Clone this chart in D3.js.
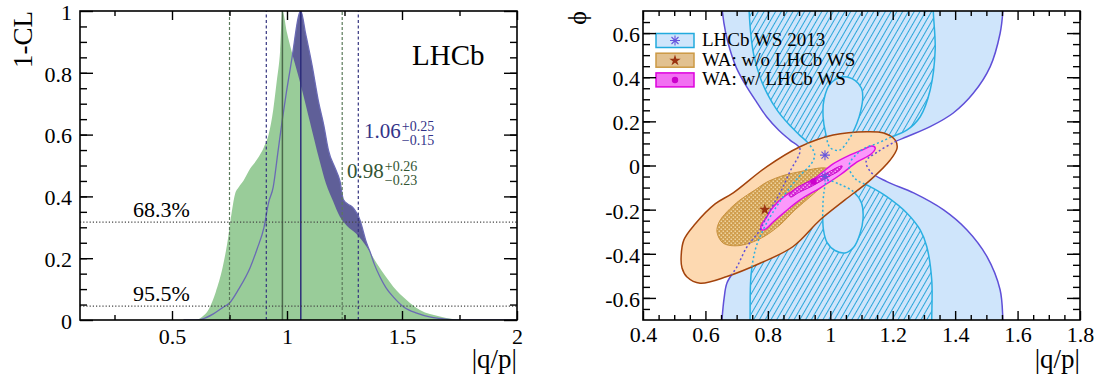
<!DOCTYPE html>
<html>
<head>
<meta charset="utf-8">
<script src="https://cdn.jsdelivr.net/npm/d3@7"></script>
<style>
  html, body { margin: 0; padding: 0; background: #fff; }
  svg { display: block; font-family: "Liberation Serif", "Times New Roman", serif; }
</style>
</head>
<body>
<svg id="chart" width="1101" height="377"></svg>
<script>
// ---- left panel: 1-CL scans vs |q/p| ----
const scanWA = [
  [0.55, 0], [0.60, 0], [0.63, 0.01], [0.66, 0.035], [0.69, 0.09], [0.72, 0.17], [0.745, 0.27],
  [0.76, 0.35], [0.775, 0.41], [0.79, 0.43], [0.81, 0.45], [0.84, 0.49], [0.87, 0.52], [0.9, 0.56],
  [0.92, 0.6], [0.94, 0.68], [0.955, 0.77], [0.97, 0.87], [0.98, 1.0], [1.0, 0.93], [1.02, 0.87],
  [1.06, 0.76], [1.1, 0.64], [1.14, 0.52], [1.17, 0.44], [1.2, 0.385], [1.23, 0.334], [1.26, 0.305],
  [1.3, 0.28], [1.346, 0.237], [1.39, 0.184], [1.43, 0.14], [1.462, 0.108], [1.52, 0.065],
  [1.578, 0.032], [1.665, 0.011], [1.72, 0.003], [1.8, 0], [2.0, 0]
]
const scanLHCb = [
  [0.55, 0], [0.6, 0], [0.63, 0.003], [0.68, 0.02], [0.72, 0.04], [0.75, 0.055], [0.79, 0.1],
  [0.84, 0.17], [0.87, 0.23], [0.9, 0.3], [0.92, 0.38], [0.94, 0.43], [0.96, 0.54], [0.98, 0.65],
  [1.02, 0.84], [1.06, 1.0], [1.08, 0.93], [1.11, 0.82], [1.136, 0.71], [1.16, 0.63], [1.18, 0.55],
  [1.21, 0.49], [1.23, 0.45], [1.245, 0.39], [1.265, 0.375], [1.285, 0.365], [1.317, 0.324],
  [1.346, 0.249], [1.361, 0.221], [1.38, 0.18], [1.404, 0.14], [1.43, 0.105], [1.462, 0.075],
  [1.506, 0.043], [1.564, 0.022], [1.62, 0.01], [1.665, 0.005], [1.75, 0], [2.0, 0]
]
const clLevels = [0.317, 0.045]
const clLabels = ['68.3%', '95.5%']
const bestWA = 0.98
const rangeWA = [0.75, 1.24]
const bestLHCb = 1.06
const rangeLHCb = [0.91, 1.31]
const leftXTicks = [0.5, 1, 1.5, 2]
const leftXMinor = [0.25, 0.75, 1.25, 1.75]
const leftYTicks = [0, 0.2, 0.4, 0.6, 0.8, 1]

// ---- right panel: contours in (|q/p|, phi) ----
const lhcb95 = [
  [0.650, 0.78], [0.654, 0.70], [0.665, 0.60], [0.679, 0.523], [0.70, 0.44], [0.732, 0.357],
  [0.765, 0.285], [0.796, 0.221], [0.835, 0.16], [0.871, 0.115], [0.903, 0.075],
  [0.87, -0.03], [0.839, -0.124], [0.80, -0.22], [0.775, -0.292], [0.733, -0.369], [0.701, -0.459],
  [0.669, -0.532], [0.66, -0.6], [0.653, -0.70], [0.650, -0.78],
  [1.555, -0.78], [1.553, -0.70], [1.544, -0.563], [1.502, -0.413], [1.438, -0.292], [1.363, -0.201],
  [1.267, -0.124], [1.181, -0.073], [1.13, -0.03], [1.115, 0.02], [1.15, 0.06], [1.208, 0.108],
  [1.245, 0.13], [1.32, 0.176], [1.394, 0.238], [1.458, 0.327], [1.512, 0.447], [1.544, 0.598],
  [1.553, 0.70], [1.555, 0.78]
]
const lhcb68 = [
  [0.738, 0.78], [0.74, 0.70], [0.745, 0.6], [0.755, 0.5], [0.775, 0.4], [0.80, 0.32], [0.83, 0.25],
  [0.865, 0.19], [0.90, 0.14], [0.93, 0.10], [0.95, 0.05], [0.94, 0.01],
  [0.9, -0.05], [0.86, -0.12], [0.828, -0.186], [0.80, -0.25], [0.775, -0.322], [0.76, -0.38],
  [0.746, -0.497], [0.743, -0.70], [0.742, -0.78],
  [1.325, -0.78], [1.325, -0.70], [1.325, -0.518], [1.309, -0.367], [1.288, -0.292], [1.245, -0.215],
  [1.181, -0.141], [1.128, -0.096], [1.08, -0.06], [1.06, 0.0], [1.1, 0.07], [1.15, 0.1],
  [1.197, 0.13], [1.245, 0.16], [1.288, 0.221], [1.32, 0.342], [1.336, 0.523], [1.33, 0.70], [1.33, 0.78]
]
const lhcb68HoleTop = [
  [1.042, 0.402], [1.08, 0.385], [1.1, 0.35], [1.104, 0.311], [1.098, 0.25], [1.085, 0.19],
  [1.058, 0.115], [1.03, 0.07], [1.0, 0.08], [0.985, 0.147], [0.977, 0.22], [0.98, 0.3], [1.0, 0.37]
]
const lhcb68HoleBottom = [
  [0.99, -0.07], [1.03, -0.085], [1.075, -0.12], [1.1, -0.17], [1.105, -0.24], [1.095, -0.31],
  [1.075, -0.37], [1.047, -0.396], [1.015, -0.385], [0.99, -0.35], [0.978, -0.29], [0.976, -0.2], [0.98, -0.12]
]
const waOuter = [
  [0.522, -0.419], [0.531, -0.337], [0.567, -0.265], [0.631, -0.174], [0.689, -0.124], [0.797, -0.005],
  [0.903, 0.085], [1.009, 0.138], [1.117, 0.153], [1.171, 0.147], [1.208, 0.115], [1.214, 0.079],
  [1.192, 0.025], [1.128, -0.066], [1.047, -0.156], [0.967, -0.247], [0.881, -0.367], [0.775, -0.443],
  [0.669, -0.503], [0.583, -0.533], [0.541, -0.505], [0.525, -0.464]
]
const waInner = [
  [0.637, -0.301], [0.644, -0.256], [0.669, -0.210], [0.711, -0.156], [0.759, -0.111], [0.797, -0.075],
  [0.855, -0.043], [0.903, -0.028], [0.945, -0.016], [0.983, -0.011], [1.006, -0.025], [0.993, -0.066],
  [0.942, -0.134], [0.887, -0.201], [0.839, -0.269], [0.791, -0.319], [0.743, -0.351], [0.695, -0.364],
  [0.656, -0.351]
]
const waLhcbOuter = [
  [0.778, -0.274], [0.794, -0.238], [0.817, -0.188], [0.855, -0.138], [0.903, -0.097], [0.951, -0.057],
  [1.009, 0.007], [1.064, 0.048], [1.102, 0.070], [1.134, 0.088], [1.144, 0.079], [1.131, 0.052],
  [1.086, 0.016], [1.031, -0.043], [0.967, -0.102], [0.903, -0.156], [0.855, -0.210], [0.817, -0.256],
  [0.794, -0.287], [0.781, -0.292]
]
const waLhcbInner = [
  [0.868, -0.134], [0.887, -0.106], [0.935, -0.070], [0.983, -0.039], [1.025, -0.007], [1.038, -0.002],
  [1.031, -0.020], [0.993, -0.052], [0.942, -0.093], [0.897, -0.124], [0.874, -0.143]
]
const lhcbBest = [[0.983, 0.047], [0.983, -0.05]]
const waBest = [0.79, -0.2]
const waLhcbBest = [0.946, -0.073]
const legendLabels = ['LHCb WS 2013', 'WA: w/o LHCb WS', 'WA: w/ LHCb WS']
const rightXTicks = [0.4, 0.6, 0.8, 1, 1.2, 1.4, 1.6, 1.8]
const rightYTicks = [-0.6, -0.4, -0.2, 0, 0.2, 0.4, 0.6]

const serif = '"Liberation Serif", "Times New Roman", serif'
const svg = d3.select('#chart')
const defs = svg.append('defs')

// Scales
const xL = d3.scaleLinear().domain([0.1, 2]).range([80, 517])
const yL = d3.scaleLinear().domain([0, 1]).range([320, 11])
const xR = d3.scaleLinear().domain([0.4, 1.8]).range([643, 1080])
const yR = d3.scaleLinear().domain([-0.7, 0.7]).range([320, 11])

defs.append('clipPath').attr('id', 'clipL').append('rect')
  .attr('x', 80).attr('y', 11).attr('width', 437).attr('height', 309)
defs.append('clipPath').attr('id', 'clipR').append('rect')
  .attr('x', 643).attr('y', 11).attr('width', 437).attr('height', 309)

// Fill patterns
const hatch = defs.append('pattern').attr('id', 'hatch')
  .attr('patternUnits', 'userSpaceOnUse').attr('width', 5).attr('height', 5)
  .attr('patternTransform', 'rotate(30)')
hatch.append('rect').attr('width', 5).attr('height', 5).attr('fill', '#cfe5fb')
hatch.append('line').attr('x1', 2.5).attr('x2', 2.5).attr('y1', 0).attr('y2', 5)
  .attr('stroke', '#2ba6da').attr('stroke-width', 1)

function dotPattern(id, base, dot) {
  const p = defs.append('pattern').attr('id', id)
    .attr('patternUnits', 'userSpaceOnUse').attr('width', 4).attr('height', 4)
  p.append('rect').attr('width', 4).attr('height', 4).attr('fill', base)
  p.append('rect').attr('x', 0.5).attr('y', 0.5).attr('width', 1.5).attr('height', 1.5).attr('fill', dot)
  p.append('rect').attr('x', 2.5).attr('y', 2.5).attr('width', 1.5).attr('height', 1.5).attr('fill', dot)
}
dotPattern('dotsTan', '#d09e4e', '#efd4a0')
dotPattern('dotsMag', '#d52ad5', '#f7a4f7')

// Axes: major + minor ticks on all four sides, ROOT style (ticks inward)
function drawAxes(x, y, xMajor, xMinor, yMajor, yMinor, fmt, xPad, yPad) {
  const [xa, xb] = x.range()
  const [yb, ya] = y.range()
  const g = svg.append('g')
  const clean = s => s.call(a => a.select('.domain').remove())

  g.append('g').attr('transform', `translate(0,${yb})`)
    .call(d3.axisBottom(x).tickValues(xMinor).tickSize(-5).tickFormat('')).call(clean)
  g.append('g').attr('class', 'xlab').attr('transform', `translate(0,${yb})`)
    .call(d3.axisBottom(x).tickValues(xMajor).tickSize(-9).tickPadding(xPad).tickFormat(fmt)).call(clean)
  g.append('g').attr('transform', `translate(0,${ya})`)
    .call(d3.axisTop(x).tickValues(xMinor).tickSize(-5).tickFormat('')).call(clean)
  g.append('g').attr('transform', `translate(0,${ya})`)
    .call(d3.axisTop(x).tickValues(xMajor).tickSize(-9).tickFormat('')).call(clean)

  g.append('g').attr('transform', `translate(${xa},0)`)
    .call(d3.axisLeft(y).tickValues(yMinor).tickSize(-7).tickFormat('')).call(clean)
  g.append('g').attr('class', 'ylab').attr('transform', `translate(${xa},0)`)
    .call(d3.axisLeft(y).tickValues(yMajor).tickSize(-13).tickPadding(yPad).tickFormat(fmt)).call(clean)
  g.append('g').attr('transform', `translate(${xb},0)`)
    .call(d3.axisRight(y).tickValues(yMinor).tickSize(-7).tickFormat('')).call(clean)
  g.append('g').attr('transform', `translate(${xb},0)`)
    .call(d3.axisRight(y).tickValues(yMajor).tickSize(-13).tickFormat('')).call(clean)

  g.selectAll('.tick line').attr('stroke', '#000').attr('stroke-width', 1.4)
  g.selectAll('.tick text').attr('font-size', 22).attr('font-family', serif).attr('fill', '#000')
  g.selectAll('.ylab .tick text').attr('dy', '0.38em')

  g.append('rect').attr('x', xa).attr('y', ya).attr('width', xb - xa).attr('height', yb - ya)
    .attr('fill', 'none').attr('stroke', '#000').attr('stroke-width', 1.6)
  return g
}

const fmt = d => String(Math.round(d * 10) / 10)

// ================= LEFT PANEL =================
const left = svg.append('g').attr('clip-path', 'url(#clipL)')
const area = d3.area().x(d => xL(d[0])).y0(yL(0)).y1(d => yL(d[1])).curve(d3.curveMonotoneX)
const line = d3.line().x(d => xL(d[0])).y(d => yL(d[1])).curve(d3.curveMonotoneX)

left.append('path').attr('d', area(scanLHCb)).attr('fill', '#5f5f98')
left.append('path').attr('d', area(scanWA)).attr('fill', '#99cc99')
left.append('path').attr('d', line(scanLHCb)).attr('fill', 'none')
  .attr('stroke', '#6a6ab4').attr('stroke-width', 1.3)

// interval lines
rangeWA.forEach(v => left.append('line').attr('x1', xL(v)).attr('x2', xL(v))
  .attr('y1', yL(0)).attr('y2', yL(1)).attr('stroke', '#5a7a5a').attr('stroke-width', 1.2)
  .attr('stroke-dasharray', '3,2'))
rangeLHCb.forEach(v => left.append('line').attr('x1', xL(v)).attr('x2', xL(v))
  .attr('y1', yL(0)).attr('y2', yL(1)).attr('stroke', '#33337f').attr('stroke-width', 1.2)
  .attr('stroke-dasharray', '3,2.5'))
left.append('line').attr('x1', xL(bestWA)).attr('x2', xL(bestWA))
  .attr('y1', yL(0)).attr('y2', yL(1)).attr('stroke', '#4b694b').attr('stroke-width', 1.5)
left.append('line').attr('x1', xL(bestLHCb)).attr('x2', xL(bestLHCb))
  .attr('y1', yL(0)).attr('y2', yL(1)).attr('stroke', '#2c2c7a').attr('stroke-width', 1.5)

// CL reference lines
clLevels.forEach((v, i) => {
  left.append('line').attr('x1', xL(0.1)).attr('x2', xL(2)).attr('y1', yL(v)).attr('y2', yL(v))
    .attr('stroke', '#444').attr('stroke-width', 1.2).attr('stroke-dasharray', '1.2,2')
  svg.append('text').attr('x', 133).attr('y', yL(v) - 5).attr('font-size', 22).text(clLabels[i])
})

svg.append('text').attr('x', 412).attr('y', 65).attr('font-size', 29).text('LHCb')

function result(x, y, color, val, up, dn) {
  const t = svg.append('g').attr('fill', color)
  const w = t.append('text').attr('x', x).attr('y', y).attr('font-size', 21).text(val)
  const x2 = x + w.node().getComputedTextLength() + 1
  t.append('text').attr('x', x2).attr('y', y - 7).attr('font-size', 14).text(up)
  t.append('text').attr('x', x2).attr('y', y + 7).attr('font-size', 14).text(dn)
}
result(364, 138, '#333388', '1.06', '+0.25', '\u22120.15')
result(347, 178, '#335533', '0.98', '+0.26', '\u22120.23')

drawAxes(xL, yL, leftXTicks, leftXMinor, leftYTicks, d3.range(0.05, 1, 0.05), fmt, 8, 8)

svg.append('text').attr('transform', 'translate(32,11) rotate(-90)')
  .attr('text-anchor', 'end').attr('font-size', 27).text('1-CL')
svg.append('text').attr('x', 517).attr('y', 368)
  .attr('text-anchor', 'end').attr('font-size', 27).text('|q/p|')

// ================= RIGHT PANEL =================
const right = svg.append('g').attr('clip-path', 'url(#clipR)')
const closed = d3.line().x(d => xR(d[0])).y(d => yR(d[1])).curve(d3.curveCatmullRomClosed.alpha(0.5))

right.append('path').attr('d', closed(lhcb95)).attr('fill', '#cfe5fb')
  .attr('stroke', '#5f4fd8').attr('stroke-width', 1.5)
right.append('path').attr('d', closed(lhcb68) + closed(lhcb68HoleTop) + closed(lhcb68HoleBottom))
  .attr('fill', 'url(#hatch)').attr('fill-rule', 'evenodd')
  .attr('stroke', '#2ab0e2').attr('stroke-width', 1.5)

// WA without LHCb WS
right.append('path').attr('d', closed(waOuter)).attr('fill', '#fdd9b1')
  .attr('stroke', '#a3430c').attr('stroke-width', 1.5)
right.append('path').attr('d', closed(waInner)).attr('fill', 'url(#dotsTan)')
  .attr('stroke', '#c8913e').attr('stroke-width', 1)

// WA with LHCb WS
right.append('path').attr('d', closed(waLhcbOuter)).attr('fill', '#fb98fb')
  .attr('stroke', '#e010e0').attr('stroke-width', 1.5)
right.append('path').attr('d', closed(waLhcbInner)).attr('fill', 'url(#dotsMag)')
  .attr('stroke', '#cc00cc').attr('stroke-width', 1)

// LHCb contours redrawn dotted on top where covered by the WA ellipse
defs.append('clipPath').attr('id', 'clipWA').append('path').attr('d', closed(waOuter))
const over = right.append('g').attr('clip-path', 'url(#clipWA)').attr('fill', 'none')
over.append('path').attr('d', closed(lhcb95)).attr('stroke', '#5f4fd8')
  .attr('stroke-width', 1.5).attr('stroke-dasharray', '2,2.5')
over.append('path').attr('d', closed(lhcb68) + closed(lhcb68HoleTop) + closed(lhcb68HoleBottom))
  .attr('stroke', '#2ab0e2').attr('stroke-width', 1.5).attr('stroke-dasharray', '2,2.5')

// markers
const asterisk = 'M-5,0H5M0,-5V5M-3.5,-3.5L3.5,3.5M-3.5,3.5L3.5,-3.5'
lhcbBest.forEach(p => right.append('path').attr('d', asterisk)
  .attr('transform', `translate(${xR(p[0])},${yR(p[1])})`)
  .attr('stroke', '#6655dd').attr('stroke-width', 1.1).attr('fill', 'none'))
right.append('path').attr('d', d3.symbol(d3.symbolStar, 40)())
  .attr('transform', `translate(${xR(waBest[0])},${yR(waBest[1])})`).attr('fill', '#9a3210')
right.append('circle').attr('cx', xR(waLhcbBest[0])).attr('cy', yR(waLhcbBest[1]))
  .attr('r', 3.2).attr('fill', '#cc00cc')

// legend
const legendStyle = [
  { fill: '#cfe5fb', stroke: '#22aadd' },
  { fill: '#e2c190', stroke: '#cc9944' },
  { fill: '#f270f2', stroke: '#dd00dd' }
]
const legend = svg.append('g')
legendLabels.forEach((lab, i) => {
  const y0 = 33.5 + i * 19.7
  legend.append('rect').attr('x', 656).attr('y', y0).attr('width', 38).attr('height', 14)
    .attr('fill', legendStyle[i].fill).attr('stroke', legendStyle[i].stroke).attr('stroke-width', 1.5)
  legend.append('text').attr('x', 702).attr('y', y0 + 12.5).attr('font-size', 19).text(lab)
})
legend.append('path').attr('d', asterisk).attr('transform', 'translate(675,40.5)')
  .attr('stroke', '#6655dd').attr('stroke-width', 1.1).attr('fill', 'none')
legend.append('path').attr('d', d3.symbol(d3.symbolStar, 40)()).attr('transform', 'translate(675,60.5)')
  .attr('fill', '#9a3210')
legend.append('circle').attr('cx', 675).attr('cy', 80).attr('r', 3.2).attr('fill', '#cc00cc')

drawAxes(xR, yR, rightXTicks, d3.range(0.45, 1.8, 0.05).filter(v => Math.abs(v * 5 - Math.round(v * 5)) > 1e-6),
  rightYTicks, d3.range(-0.65, 0.7, 0.05), fmt, 6, 3)

svg.append('text').attr('transform', 'translate(586,11) rotate(-90)')
  .attr('text-anchor', 'end').attr('font-size', 26).text('\u03d5')
svg.append('text').attr('x', 1080).attr('y', 368)
  .attr('text-anchor', 'end').attr('font-size', 27).text('|q/p|')
</script>
</body>
</html>
